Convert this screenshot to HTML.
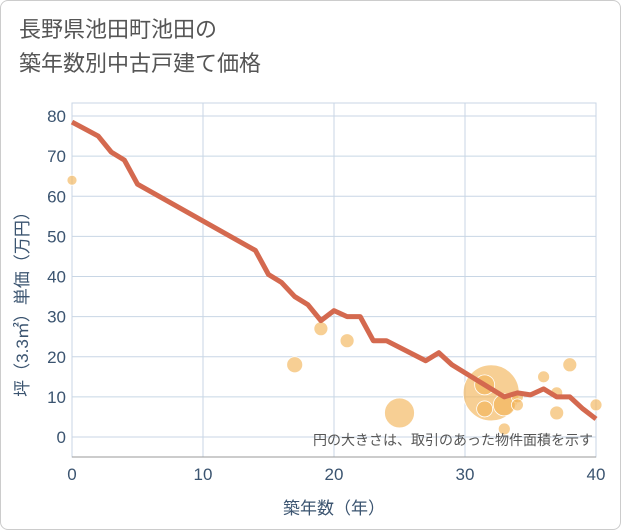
<!DOCTYPE html>
<html><head><meta charset="utf-8"><style>
body{margin:0;background:#fff;font-family:"Liberation Sans","Noto Sans CJK JP",sans-serif;}
#wrap{position:relative;width:619px;height:528px;border:1px solid #ccc;border-radius:8px;overflow:hidden;background:#fff}
.title{position:absolute;left:18px;top:12px;font-size:22px;line-height:34px;color:#555}
</style></head><body>
<div id="wrap">
<div class="title">長野県池田町池田の<br>築年数別中古戸建て価格</div>
<svg id="svg" width="621" height="530" style="position:absolute;left:-1px;top:-1px"></svg>
</div>
<script>
const xTicks=[0,10,20,30,40];
const yTicks=[0,10,20,30,40,50,60,70,80];
const lineX=[0,2,3,4,5,14,15,16,17,18,19,20,21,22,23,24,27,28,29,31,32,33,34,35,36,37,38,39,40];
const lineY=[78.5,75,71,69,63,46.5,40.5,38.5,35,33,29,31.5,30,30,24,24,19,21,18,14,12,10,11,10.5,12,10,10,7,4.5];
const bubX=[0,17,19,21,25,32,31.5,33,34,34,33,36,37,37,38,40,31.5];
const bubY=[64,18,27,24,6,11,7,8,10,8,2,15,11,6,18,8,13];
const bubR=[5,8,7,7,15,28,8,11,6,6,6,6,6,7,7,6,10];
const X0=72,X1=596,YT=103,YB=457;
const sx=v=>X0+(v/40)*(X1-X0);
const sy=v=>437-(v/80)*(437-116);
const svg=document.getElementById('svg');const NS='http://www.w3.org/2000/svg';
const TC='#3b5470';
function mk(t,a){const e=document.createElementNS(NS,t);for(const k in a)e.setAttribute(k,a[k]);svg.appendChild(e);return e;}
let e=mk('rect',{x:X0,y:YT,width:X1-X0,height:YB-YT,fill:'#fff',stroke:'#c8d6e5'});


yTicks.forEach(v=>{let l=mk('line',{x1:X0,x2:X1,y1:sy(v),y2:sy(v),stroke:'#c8d6e5','stroke-width':1});


let t=mk('text',{x:X0-6,y:sy(v)+6,'text-anchor':'end','font-size':17,fill:TC});t.textContent=v;

});
xTicks.forEach(v=>{let l=mk('line',{x1:sx(v),x2:sx(v),y1:YT,y2:YB,stroke:'#c8d6e5','stroke-width':1});


let t=mk('text',{x:sx(v),y:480,'text-anchor':'middle','font-size':17,fill:TC});t.textContent=v;

});
e=mk('line',{x1:X0,x2:X1,y1:YB,y2:YB,stroke:'#999'});


bubX.forEach((v,i)=>{let c=mk('circle',{cx:sx(v),cy:sy(bubY[i]),r:bubR[i],fill:'#f2b65a','fill-opacity':0.65,stroke:'#fff','stroke-width':0.8});

});
let p=mk('polyline',{points:lineX.map((v,i)=>sx(v)+','+sy(lineY[i])).join(' '),fill:'none',stroke:'#d4694f','stroke-width':5,'stroke-linejoin':'round'});


let n=mk('text',{x:593,y:445,'text-anchor':'end','font-size':14,fill:'#555'});n.textContent='円の大きさは、取引のあった物件面積を示す';


let xt=mk('text',{x:334,y:514,'text-anchor':'middle','font-size':17,fill:TC});xt.textContent='築年数（年）';


let yt=mk('text',{x:0,y:0,'text-anchor':'middle','font-size':17,fill:TC,transform:'translate(28,300) rotate(-90)'});yt.textContent='坪（3.3㎡）単価（万円）';


</script>
</body></html>
